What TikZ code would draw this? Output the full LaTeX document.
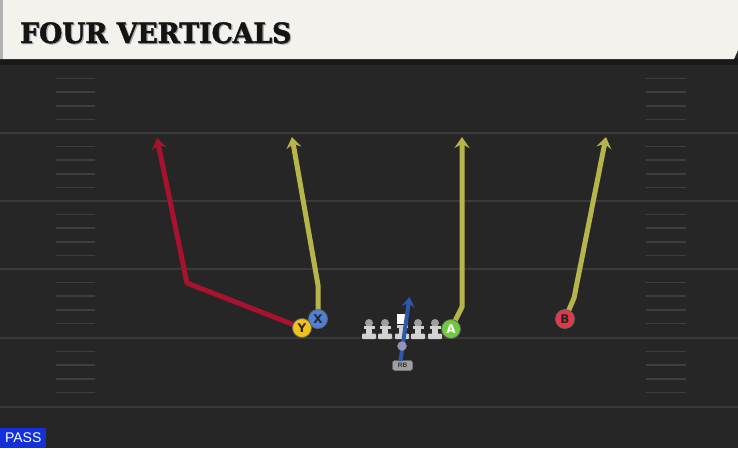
\documentclass[tikz,border=0pt]{standalone}
\usepackage{fontspec}
\usetikzlibrary{arrows.meta}
\newfontfamily\titlefont[FakeStretch=0.95,BoldFeatures={FakeBold=1.6}]{DejaVu Serif}
\newfontfamily\labelfont{Liberation Sans}
\newfontfamily\playerfont{DejaVu Sans}
\definecolor{fieldbg}{HTML}{262626}
\definecolor{yardln}{HTML}{3A3A3A}
\definecolor{hashc}{HTML}{3E3E3E}
\definecolor{headbg}{HTML}{F4F2EC}
\definecolor{routered}{HTML}{A8122E}
\definecolor{routeolive}{HTML}{B6B54C}
\definecolor{routeblue}{HTML}{2E59AA}
\definecolor{pyellow}{HTML}{F2C21C}
\definecolor{pblue}{HTML}{4D80D8}
\definecolor{pgreen}{HTML}{6ECB3C}
\definecolor{pred}{HTML}{E2384A}
\definecolor{passblue}{HTML}{1430D8}
\definecolor{olgray}{HTML}{D2D2D2}
\tikzset{
  x=1pt, y=-1pt,
  yard/.style={draw=yardln, line width=2pt},
  hashmk/.style={draw=hashc, line width=1.6pt},
  route/.style={line width=5pt, line join=round, -{Stealth[length=11pt,width=15pt,inset=4pt]}},
  player/.style={circle, draw=black!60, line width=0.8pt, minimum size=19pt, inner sep=0pt,
    font=\playerfont\bfseries\fontsize{12}{12}\selectfont, text=black!85},
  lineman/.style={fill=olgray},
}
\begin{document}
\begin{tikzpicture}
\useasboundingbox (0,0) rectangle (738,448);
% field
\fill[fieldbg] (0,0) rectangle (738,448);
% yard lines
\foreach \yy [count=\i] in {133,201,269,338,407} {
  \coordinate (yl\i a) at (0,\yy);
  \coordinate (yl\i b) at (738,\yy);
  \draw[yard] (yl\i a) -- (yl\i b);
}
% hash marks
\foreach \base in {65,133,201,269,338} {
  \foreach \k in {1,2,3,4} {
    \pgfmathsetmacro{\hy}{\base+13.6*\k}
    \draw[hashmk] (56,\hy) -- (95,\hy);
    \draw[hashmk] (646,\hy) -- (686,\hy);
  }
}
% header
\fill[black!90] (0,58) rectangle (738,65);
\fill[headbg] (0,0) -- (738,0) -- (738,50) -- (734,59) -- (0,59) -- cycle;
\fill[gray!60] (0,0) rectangle (3,59);
\node[anchor=base west, inner sep=0pt, text=black!35, font=\titlefont\bfseries\fontsize{28}{28}\selectfont] at (21.2,44) {FOUR VERTICALS};
\node[anchor=base west, inner sep=0pt, text=black!92, font=\titlefont\bfseries\fontsize{28}{28}\selectfont] (title) at (20,43) {FOUR VERTICALS};
% linemen
\foreach \lx [count=\j] in {369,385,418,435} {
  \fill[gray!75] (\lx,323) circle (4);
  \fill[lineman] (\lx-5.5,325.5) rectangle (\lx+5.5,328.5);
  \fill[lineman] (\lx-3,328) rectangle (\lx+3,334);
  \fill[lineman, rounded corners=1pt] (\lx-7,333.5) rectangle (\lx+7,339);
}
% center
\fill[white] (396.5,313.5) rectangle (407.5,323.5);
\fill[lineman] (402-5.5,324.5) rectangle (402+5.5,327.5);
\fill[lineman] (402-3,327) rectangle (402+3,334);
\fill[lineman, rounded corners=1pt] (402-7,333.5) rectangle (402+7,339);
% running back
\node[draw=black!50, fill=gray!75, rounded corners=2.5pt, minimum width=20pt, minimum height=10pt, inner sep=0pt,
  font=\labelfont\bfseries\fontsize{6.5}{6.5}\selectfont, text=black!80] (rbl) at (402.5,365.5) {RB};
\coordinate (rbstart) at (400.5,361);
\coordinate (rbend) at (409.5,297);
\draw[routeblue, line width=4pt, -{Stealth[length=10pt,width=13pt,inset=4pt]}] (rbstart) -- (rbend);
\node[circle, fill=gray!70!blue!60, draw=black!40, minimum size=9pt, inner sep=0pt, opacity=0.9] (rb) at (402,346) {};
% players (positions)
\coordinate (yc) at (302,328);
\coordinate (xc) at (318,319);
\coordinate (ac) at (451,329);
\coordinate (bc) at (565,319);
% routes
\coordinate (rcorner) at (187,283);
\coordinate (rend) at (157,138);
\coordinate (xcorner) at (318,285);
\coordinate (xend) at (292,137);
\coordinate (acorner) at (462,307);
\coordinate (aend) at (462,137);
\coordinate (bcorner) at (574,298);
\coordinate (bend) at (606,137);
\draw[route, routered] (yc) -- (rcorner) -- (rend);
\draw[route, routeolive] (xc) -- (xcorner) -- (xend);
\draw[route, routeolive] (ac) -- (acorner) -- (aend);
\draw[route, routeolive] (bc) -- (bcorner) -- (bend);
% player discs
\node[player, fill=pblue] (X) at (xc) {X};
\node[player, fill=pyellow] (Y) at (yc) {Y};
\node[player, fill=pgreen, text=white] (A) at (ac) {A};
\node[player, fill=pred] (B) at (bc) {B};
% pass label
\node[fill=passblue, anchor=south west, minimum width=46pt, minimum height=20pt, inner sep=0pt,
  text=white, font=\labelfont\fontsize{14}{14}\selectfont] (pass) at (0,448) {PASS};
\end{tikzpicture}
\end{document}
